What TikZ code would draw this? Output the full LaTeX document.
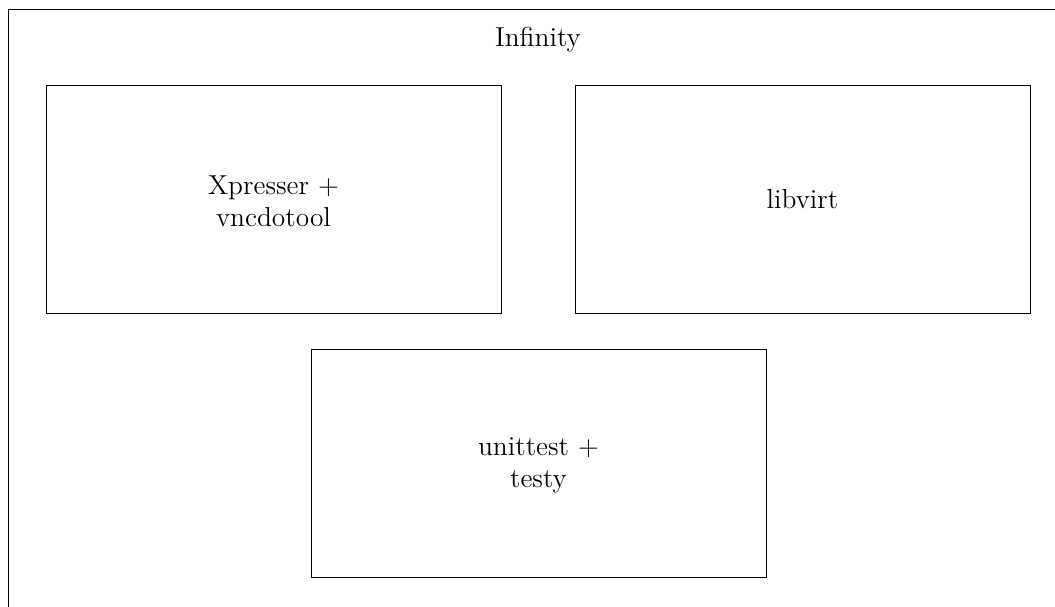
\documentclass[tikz,border=0pt]{standalone}
\begin{document}
\begin{tikzpicture}[x=0.015385cm,y=-0.015385cm,
  frame/.style={line width=0.4pt},
  labeltext/.style={align=center, inner sep=0pt, font=\large},
  boxtext/.style={align=center, inner sep=0pt, font=\large}]
\useasboundingbox (0,0) rectangle (1055,607);
\draw[frame] (8.5,620) -- (8.5,9.5) -- (1070,9.5);
\node[labeltext, anchor=base] (title) at (538,47) {Infinity};
\draw[frame] (46,85) rectangle (501,313);
\node[boxtext] (xp) at (273.5,201) {Xpresser +\\vncdotool};
\draw[frame] (575,85) rectangle (1030,313);
\node[boxtext] (lv) at (802.5,199) {libvirt};
\draw[frame] (311,349) rectangle (766,577);
\node[boxtext] (ut) at (538.5,465) {unittest +\\testy};
\end{tikzpicture}
\end{document}
